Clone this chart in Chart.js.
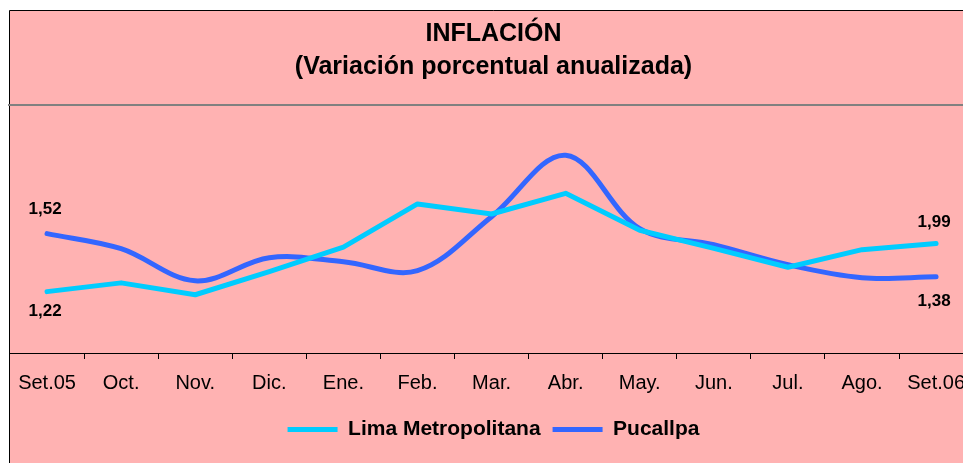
<!DOCTYPE html>
<html>
<head>
<meta charset="utf-8">
<title>Inflación</title>
<script src="https://cdn.jsdelivr.net/npm/chart.js@4"></script>
<style>
  html, body { margin: 0; padding: 0; background: #fff; overflow: hidden; }
  #wrap { position: absolute; left: 0; top: 0; width: 977px; height: 463px; }
</style>
</head>
<body>
<div id="wrap"><canvas id="chart"></canvas></div>
<script>
const months = ["Set.05", "Oct.", "Nov.", "Dic.", "Ene.", "Feb.", "Mar.", "Abr.", "May.", "Jun.", "Jul.", "Ago.", "Set.06"];
const limaValues = [1.22, 1.36, 1.17, 1.54, 1.93, 2.62, 2.46, 2.79, 2.20, 1.91, 1.61, 1.89, 1.99];
const pucallpaValues = [1.52, 1.471, 1.367, 1.442, 1.429, 1.40, 1.575, 1.774, 1.536, 1.484, 1.419, 1.377, 1.38];
const titleLines = ["INFLACIÓN", "(Variación porcentual anualizada)"];

const FONT = "Arial, 'Liberation Sans', sans-serif";

// pink panel with the black frame and grey plot-area top line
const panelPlugin = {
  id: "panel",
  beforeDraw(chart) {
    const { ctx, width, height, chartArea } = chart;
    ctx.save();
    ctx.fillStyle = "#FFB2B2";
    ctx.fillRect(10, 10, width - 10, height - 10);
    ctx.strokeStyle = "#000";
    ctx.lineWidth = 1;
    ctx.beginPath();
    ctx.moveTo(9.5, height);
    ctx.lineTo(9.5, 10.5);
    ctx.lineTo(width, 10.5);
    ctx.stroke();
    ctx.strokeStyle = "#808080";
    ctx.lineWidth = 2;
    ctx.beginPath();
    ctx.moveTo(8, chartArea.top);
    ctx.lineTo(width, chartArea.top);
    ctx.stroke();
    ctx.restore();
  }
};

// value labels on the first and last point of each series
const endLabelsPlugin = {
  id: "endLabels",
  afterDatasetsDraw(chart) {
    const { ctx } = chart;
    // [first, last] vertical offsets per dataset
    const offsets = [[20, -21], [-24, 25]];
    ctx.save();
    ctx.font = "bold 17px " + FONT;
    ctx.fillStyle = "#000";
    ctx.textAlign = "center";
    ctx.textBaseline = "middle";
    chart.data.datasets.forEach((ds, di) => {
      const meta = chart.getDatasetMeta(di);
      const last = ds.data.length - 1;
      [0, last].forEach((idx, k) => {
        const pt = meta.data[idx];
        const txt = ds.data[idx].toFixed(2).replace(".", ",");
        ctx.fillText(txt, pt.x - 2, pt.y + offsets[di][k]);
      });
    });
    ctx.restore();
  }
};

new Chart(document.getElementById("chart"), {
  type: "line",
  data: {
    labels: months,
    datasets: [
      {
        label: "Lima Metropolitana",
        data: limaValues,
        yAxisID: "y",
        borderColor: "#00CCFF",
        backgroundColor: "#00CCFF",
        borderWidth: 5,
        borderCapStyle: "round",
        borderJoinStyle: "round",
        tension: 0,
        pointRadius: 0,
      },
      {
        label: "Pucallpa",
        data: pucallpaValues,
        yAxisID: "y1",
        borderColor: "#3366FF",
        backgroundColor: "#3366FF",
        borderWidth: 5,
        borderCapStyle: "round",
        tension: 0.35,
        pointRadius: 0,
      },
    ],
  },
  options: {
    responsive: true,
    maintainAspectRatio: false,
    animation: false,
    layout: { padding: { left: 10, top: 10, right: 0, bottom: 13 } },
    scales: {
      x: {
        offset: true,
        grid: {
          offset: true,
          drawOnChartArea: false,
          drawTicks: true,
          tickLength: 6,
          color: "#000",
        },
        border: { color: "#000", width: 1 },
        ticks: {
          color: "#000",
          padding: 12,
          maxRotation: 0,
          autoSkip: false,
          font: { family: FONT, size: 20 },
        },
      },
      y: { display: false, min: 0.24, max: 4.2 },
      y1: { display: false, min: 1.133, max: 1.937 },
    },
    plugins: {
      title: {
        display: true,
        text: titleLines,
        color: "#000",
        font: { family: FONT, size: 25, weight: "bold", lineHeight: 1.32 },
        padding: { top: 8, bottom: 21 },
      },
      legend: {
        position: "bottom",
        labels: {
          usePointStyle: true,
          pointStyle: "line",
          pointStyleWidth: 50,
          boxHeight: 5,
          color: "#000",
          padding: 12,
          font: { family: FONT, size: 21, weight: "bold" },
        },
      },
      tooltip: { enabled: false },
    },
  },
  plugins: [panelPlugin, endLabelsPlugin],
});
</script>
</body>
</html>
